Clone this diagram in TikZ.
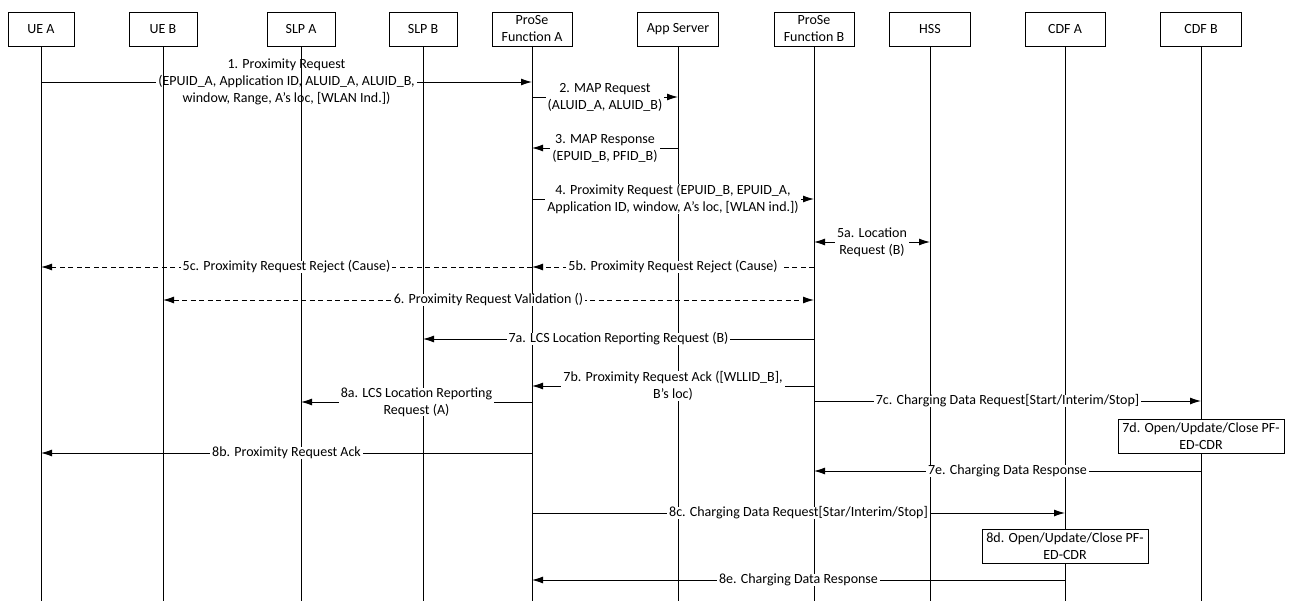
\documentclass[tikz,border=0pt]{standalone}
\usepackage{fontspec}
\setmainfont{Carlito}
\usetikzlibrary{arrows.meta,positioning}

\begin{document}
\begin{tikzpicture}[x=1pt, y=-1pt,
    entity/.style={rectangle, draw, line width=0.9pt, minimum height=34pt, align=center, inner sep=1pt, font=\fontsize{14}{17}\selectfont},
    lifeline/.style={line width=0.9pt},
    msg/.style={line width=0.9pt, -{Latex[length=11pt,width=7pt]}},
    msgboth/.style={line width=0.9pt, {Latex[length=11pt,width=7pt]}-{Latex[length=11pt,width=7pt]}},
    dashedmsg/.style={dash pattern=on 5pt off 3.5pt},
    msglabel/.style={fill=white, inner xsep=2pt, inner ysep=0pt, align=center, font=\fontsize{14}{17}\selectfont},
    cdrbox/.style={rectangle, draw, fill=white, line width=0.9pt, minimum width=166pt, minimum height=34pt, align=center, inner sep=1pt, font=\fontsize{14}{17}\selectfont}]

\useasboundingbox (0,0) rectangle (1289,601);

% Entities

\node[entity, minimum width=66pt] (UEA)  at (41,29)   {UE A};
\node[entity, minimum width=68pt] (UEB)  at (163,29)  {UE B};
\node[entity, minimum width=68pt] (SLPA) at (301,29)  {SLP A};
\node[entity, minimum width=68pt] (SLPB) at (423,29)  {SLP B};
\node[entity, minimum width=80pt] (PFA)  at (532,29)  {ProSe\\Function A};
\node[entity, minimum width=81pt] (APP)  at (678,29)  {App Server};
\node[entity, minimum width=80pt] (PFB)  at (814,29)  {ProSe\\Function B};
\node[entity, minimum width=81pt] (HSS)  at (930,29)  {HSS};
\node[entity, minimum width=80pt] (CDFA) at (1065,29) {CDF A};
\node[entity, minimum width=81pt] (CDFB) at (1201,29) {CDF B};

% Request (its text lies under the lifelines)

\draw[msg] (UEA |- 0,82) -- node[msglabel] {1. Proximity Request\\(EPUID\_A, Application ID, ALUID\_A, ALUID\_B,\\window, Range, A's loc, [WLAN Ind.])} (PFA |- 0,82);

% Lifelines

\coordinate (UEAEnd)  at (UEA |- 0,601);
\coordinate (UEBEnd)  at (UEB |- 0,601);
\coordinate (SLPAEnd) at (SLPA |- 0,601);
\coordinate (SLPBEnd) at (SLPB |- 0,601);
\coordinate (PFAEnd)  at (PFA |- 0,601);
\coordinate (APPEnd)  at (APP |- 0,601);
\coordinate (PFBEnd)  at (PFB |- 0,601);
\coordinate (HSSEnd)  at (HSS |- 0,601);
\coordinate (CDFAEnd) at (CDFA |- 0,601);
\coordinate (CDFBEnd) at (CDFB |- 0,601);

\draw[lifeline] (UEA)  -- (UEAEnd);
\draw[lifeline] (UEB)  -- (UEBEnd);
\draw[lifeline] (SLPA) -- (SLPAEnd);
\draw[lifeline] (SLPB) -- (SLPBEnd);
\draw[lifeline] (PFA)  -- (PFAEnd);
\draw[lifeline] (APP)  -- (APPEnd);
\draw[lifeline] (PFB)  -- (PFBEnd);
\draw[lifeline] (HSS)  -- (HSSEnd);
\draw[lifeline] (CDFA) -- (CDFAEnd);
\draw[lifeline] (CDFB) -- (CDFBEnd);

% Mapping

\draw[msg] (PFA |- 0,97) -- node[msglabel] {2. MAP Request\\(ALUID\_A, ALUID\_B)} (APP |- 0,97);
\draw[msg] (APP |- 0,148) -- node[msglabel] {3. MAP Response\\(EPUID\_B, PFID\_B)} (PFA |- 0,148);
\draw[msg] (PFA |- 0,199) -- node[msglabel] {4. Proximity Request (EPUID\_B, EPUID\_A,\\Application ID, window, A's loc, [WLAN ind.])} (PFB |- 0,199);
\draw[msgboth] (PFB |- 0,242) -- node[msglabel] {5a. Location\\Request (B)} (HSS |- 0,242);

% Reject and validation

\draw[msg, dashedmsg] (PFB |- 0,267) -- node[msglabel] {5b. Proximity Request Reject (Cause)} (PFA |- 0,267);
\draw[msg, dashedmsg] (PFA |- 0,267) -- node[msglabel] {5c. Proximity Request Reject (Cause)} (UEA |- 0,267);
\draw[msgboth, dashedmsg] (UEB |- 0,300) -- node[msglabel] {6. Proximity Request Validation ()} (PFB |- 0,300);

% Location reporting and charging

\draw[msg] (PFB |- 0,339) -- node[msglabel] {7a. LCS Location Reporting Request (B)} (SLPB |- 0,339);
\draw[msg] (PFB |- 0,386) -- node[msglabel] {7b. Proximity Request Ack ([WLLID\_B],\\B's loc)} (PFA |- 0,386);
\draw[msg] (PFA |- 0,402) -- node[msglabel] {8a. LCS Location Reporting\\Request (A)} (SLPA |- 0,402);
\draw[msg] (PFB |- 0,401) -- node[msglabel] {7c. Charging Data Request[Start/Interim/Stop]} (CDFB |- 0,401);
\node[cdrbox] (CDR7d) at (CDFB |- 0,436) {7d. Open/Update/Close PF-\\ED-CDR};
\draw[msg] (PFA |- 0,453) -- node[msglabel] {8b. Proximity Request Ack} (UEA |- 0,453);
\draw[msg] (CDFB |- 0,471) -- node[msglabel] {7e. Charging Data Response} (PFB |- 0,471);
\draw[msg] (PFA |- 0,513) -- node[msglabel] {8c. Charging Data Request[Star/Interim/Stop]} (CDFA |- 0,513);
\node[cdrbox] (CDR8d) at (CDFA |- 0,546.5) {8d. Open/Update/Close PF-\\ED-CDR};
\draw[msg] (CDFA |- 0,580) -- node[msglabel] {8e. Charging Data Response} (PFA |- 0,580);

\end{tikzpicture}
\end{document}
